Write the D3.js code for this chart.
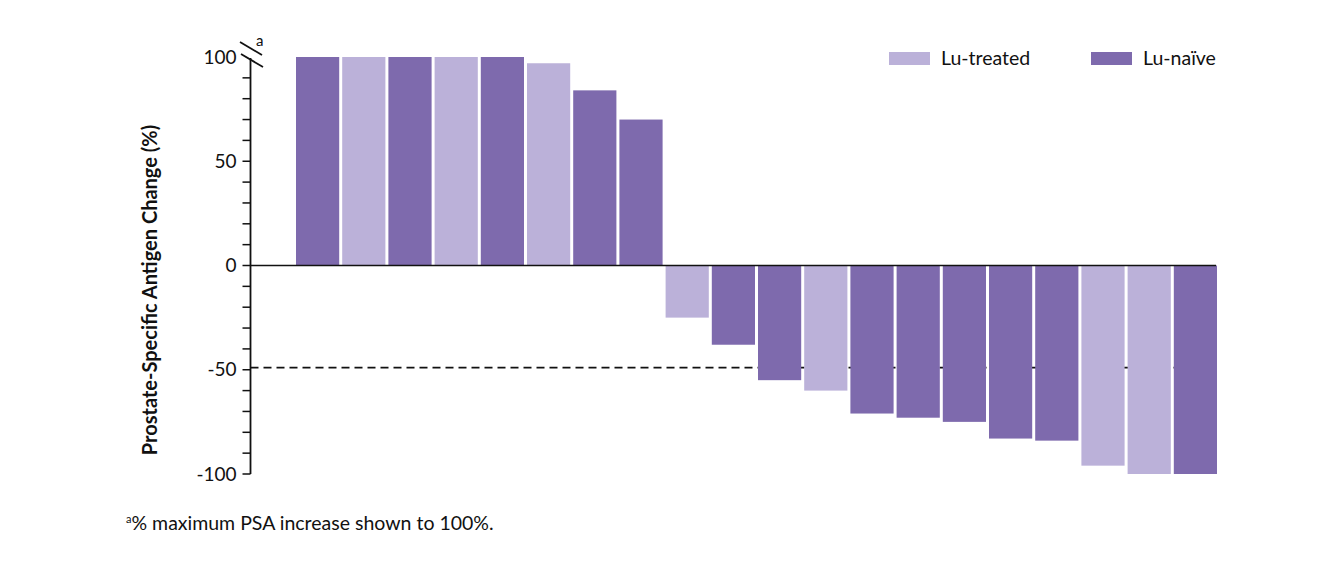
<!DOCTYPE html>
<html><head><meta charset="utf-8">
<script src="https://cdn.jsdelivr.net/npm/d3@7"></script>
<style>body{margin:0;background:#fff;} text{font-family:Lato,"Open Sans",sans-serif;fill:#111;}</style>
</head><body><svg id="c" width="1320" height="566"></svg>
<script>
const patients = d3.range(1, 21).map(String);
const values = [100,100,100,100,100,97,84,70,-25,-38,-55,-60,-71,-73,-75,-83,-84,-96,-100,-100];
const groups = ["naive","treated","naive","treated","naive","treated","naive","naive","treated","naive","naive","treated","naive","naive","naive","naive","naive","treated","treated","naive"];
const majorTicks = [100,50,0,-50,-100];
const minorTicks = d3.range(-100, 101, 10);
const threshold = -49;
const legendLabels = ["Lu-treated","Lu-naïve"];
const colors = {treated:"#bbb1d9", naive:"#7e6aad"};

const svg = d3.select("#c");
const y = d3.scaleLinear().domain([-100,100]).range([474,57]);
const x = d3.scaleBand().domain(patients).range([296,1217]).paddingInner(0.065).paddingOuter(0);
const axisX = 250.5;

svg.append("line").attr("x1",axisX).attr("x2",1216).attr("y1",y(threshold)).attr("y2",y(threshold))
  .attr("stroke","#111").attr("stroke-width",1.6).attr("stroke-dasharray","8,5");

svg.selectAll("rect.bar").data(values).join("rect").attr("class","bar")
  .attr("x",(d,i)=>x(patients[i])).attr("width",x.bandwidth())
  .attr("y",d=>y(Math.max(0,d))).attr("height",d=>Math.abs(y(d)-y(0)))
  .attr("fill",(d,i)=>colors[groups[i]]);

svg.append("line").attr("x1",axisX).attr("x2",1216).attr("y1",y(0)).attr("y2",y(0))
  .attr("stroke","#111").attr("stroke-width",1.6);

const g = svg.append("g").attr("transform",`translate(${axisX},0)`);
g.append("line").attr("y1",58).attr("y2",y(-100)).attr("stroke","#111").attr("stroke-width",1.8);
g.selectAll("line.minor").data(minorTicks.filter(t=>t<100)).join("line").attr("class","minor")
  .attr("x1",-8).attr("x2",0).attr("y1",d=>y(d)).attr("y2",d=>y(d)).attr("stroke","#111").attr("stroke-width",1.5);
g.selectAll("text.tl").data(majorTicks).join("text").attr("class","tl")
  .attr("x",-14).attr("y",d=>y(d)).attr("dy","0.35em").attr("text-anchor","end")
  .attr("font-size",19).text(d=>d);

svg.append("line").attr("x1",240).attr("y1",42).attr("x2",262).attr("y2",55).attr("stroke","#111").attr("stroke-width",1.8);
svg.append("line").attr("x1",241).attr("y1",54).attr("x2",263).attr("y2",67).attr("stroke","#111").attr("stroke-width",1.8);
svg.append("text").attr("x",256).attr("y",46).attr("font-size",15).text("a");

svg.append("text").attr("transform",`translate(157,290) rotate(-90)`).attr("text-anchor","middle")
  .attr("font-size",20).attr("font-weight","bold").text("Prostate-Specific Antigen Change (%)");

const leg = [{x:889,label:legendLabels[0],c:colors.treated},{x:1091,label:legendLabels[1],c:colors.naive}];
leg.forEach(l=>{
  svg.append("rect").attr("x",l.x).attr("y",52).attr("width",41).attr("height",13).attr("fill",l.c);
  svg.append("text").attr("x",l.x+52).attr("y",65).attr("font-size",19.5).text(l.label);
});

const fn = svg.append("text").attr("x",126).attr("y",530).attr("font-size",19.5);
fn.append("tspan").attr("font-size",11).attr("dy",-7).text("a");
fn.append("tspan").attr("dy",7).text("% maximum PSA increase shown to 100%.");
</script></body></html>
